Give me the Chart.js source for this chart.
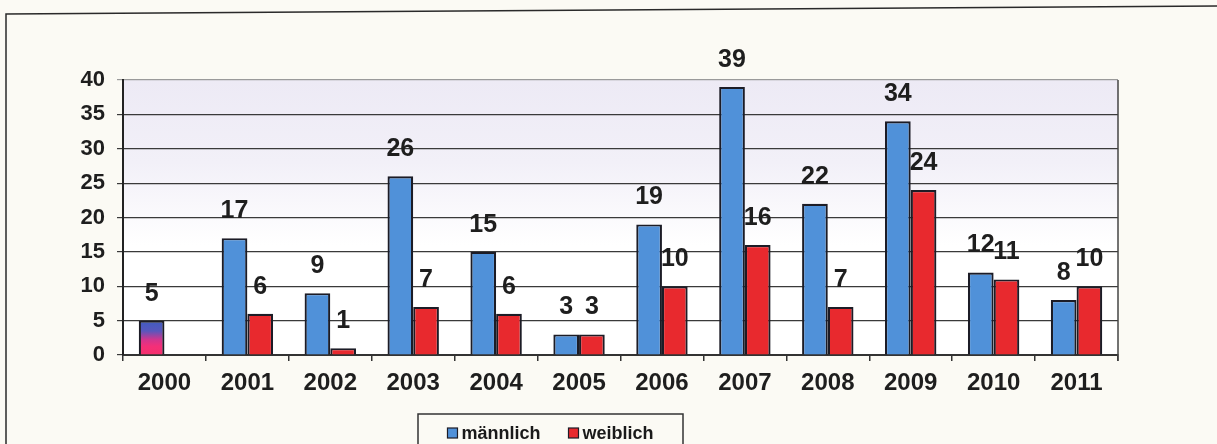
<!DOCTYPE html>
<html>
<head>
<meta charset="utf-8">
<script src="https://cdn.jsdelivr.net/npm/chart.js@4/dist/chart.umd.min.js"></script>
<style>
  html, body { margin: 0; padding: 0; background: #fbfaf4; }
  #wrap { width: 1217px; height: 444px; position: relative; }
</style>
</head>
<body>
<div id="wrap"><canvas id="genderChart"></canvas></div>
<script>
/* globals Chart:false */

const years = ['2000', '2001', '2002', '2003', '2004', '2005', '2006', '2007', '2008', '2009', '2010', '2011']
const maleCounts = [5, 17, 9, 26, 15, 3, 19, 39, 22, 34, 12, 8]
const femaleCounts = [null, 6, 1, 7, 6, 3, 10, 16, 7, 24, 11, 10]
const yTicks = [0, 5, 10, 15, 20, 25, 30, 35, 40]

const MALE_BLUE = '#5091d9'
const FEMALE_RED = '#e8292e'
const EDGE = '#1c1c26'
const FONT = '"Liberation Sans", Arial, sans-serif';

(() => {
  'use strict'

  const el = document.getElementById('genderChart')

  // the first year has one bar only, drawn blue fading into pink
  const maleFill = ctx => {
    const chart = ctx.chart
    const y = chart.scales && chart.scales.y
    if (ctx.dataIndex !== 0 || !y || !chart.chartArea) return MALE_BLUE
    const top = y.getPixelForValue(maleCounts[0])
    const bottom = y.getPixelForValue(0)
    const g = chart.ctx.createLinearGradient(0, top, 0, bottom)
    g.addColorStop(0, '#3f5cc0')
    g.addColorStop(0.3, '#5857bd')
    g.addColorStop(0.55, '#d0358f')
    g.addColorStop(0.75, '#f42f78')
    g.addColorStop(1, '#f5306c')
    return g
  }

  const backdrop = {
    id: 'backdrop',
    beforeDraw(chart) {
      const { ctx, chartArea: a } = chart
      ctx.save()
      ctx.fillStyle = '#fbfaf4'
      ctx.fillRect(0, 0, chart.width, chart.height)
      // outer frame
      ctx.strokeStyle = '#2a2a2a'
      ctx.lineWidth = 1.5
      ctx.beginPath()
      ctx.moveTo(6, chart.height)
      ctx.lineTo(6, 14)
      ctx.lineTo(chart.width, 6)
      ctx.stroke()
      // plot area tint
      const g = ctx.createLinearGradient(0, a.top, 0, a.bottom)
      g.addColorStop(0, '#edeaf5')
      g.addColorStop(0.3, '#f2f0f8')
      g.addColorStop(0.6, '#ffffff')
      g.addColorStop(1, '#ffffff')
      ctx.fillStyle = g
      ctx.fillRect(a.left, a.top, a.right - a.left, a.bottom - a.top)
      ctx.restore()
    },
    afterDraw(chart) {
      const { ctx, chartArea: a } = chart
      ctx.save()
      ctx.strokeStyle = '#444'
      ctx.lineWidth = 1.5
      ctx.beginPath()
      ctx.moveTo(a.right, a.top)
      ctx.lineTo(a.right, a.bottom + 6)
      ctx.stroke()

      // legend box
      ctx.font = `bold 18px ${FONT}`
      const items = chart.data.datasets.map(ds => ({ label: ds.label, color: ds.legendColor }))
      const sq = 10
      const gap = 4
      const spacing = 28
      const widths = items.map(it => sq + gap + ctx.measureText(it.label).width)
      const total = widths.reduce((s, w) => s + w, 0) + spacing * (items.length - 1)
      const boxLeft = 418
      const boxRight = 683
      const cy = 433
      ctx.strokeStyle = '#333'
      ctx.lineWidth = 1.5
      ctx.strokeRect(boxLeft, 414, boxRight - boxLeft, 60)
      let x = (boxLeft + boxRight) / 2 - total / 2
      ctx.textBaseline = 'middle'
      ctx.textAlign = 'left'
      items.forEach((it, i) => {
        ctx.fillStyle = it.color
        ctx.fillRect(x, cy - sq / 2, sq, sq)
        ctx.strokeStyle = EDGE
        ctx.lineWidth = 1.2
        ctx.strokeRect(x, cy - sq / 2, sq, sq)
        ctx.fillStyle = '#1a1a1a'
        ctx.fillText(it.label, x + sq + gap, cy + 1)
        x += widths[i] + spacing
      })
      ctx.restore()
    }
  }

  const valueLabels = {
    id: 'valueLabels',
    afterDatasetsDraw(chart) {
      const { ctx } = chart
      ctx.save()
      ctx.font = `bold 25px ${FONT}`
      ctx.fillStyle = '#1e1e1e'
      ctx.textAlign = 'center'
      ctx.textBaseline = 'middle'
      chart.data.datasets.forEach((ds, di) => {
        chart.getDatasetMeta(di).data.forEach((bar, i) => {
          const v = ds.data[i]
          if (v === null || v === undefined) return
          ctx.fillText(String(v), bar.x, bar.y - 27)
        })
      })
      ctx.restore()
    }
  }

  // eslint-disable-next-line no-unused-vars
  const genderChart = new Chart(el, {
    type: 'bar',
    data: {
      labels: years,
      datasets: [
        {
          label: 'männlich',
          data: maleCounts,
          backgroundColor: maleFill,
          legendColor: MALE_BLUE,
          borderColor: EDGE,
          borderWidth: 2.2
        },
        {
          label: 'weiblich',
          data: femaleCounts,
          backgroundColor: FEMALE_RED,
          legendColor: FEMALE_RED,
          borderColor: EDGE,
          borderWidth: 2.2
        }
      ]
    },
    options: {
      responsive: true,
      maintainAspectRatio: false,
      animation: false,
      categoryPercentage: 0.62,
      barPercentage: 1.0,
      layout: { padding: { top: 80, right: 99, left: 0, bottom: 0 } },
      plugins: {
        legend: { display: false },
        tooltip: { enabled: false }
      },
      scales: {
        x: {
          afterFit: s => { s.height = 89 },
          grid: {
            offset: true,
            drawOnChartArea: false,
            drawTicks: true,
            tickLength: 6,
            color: '#333',
            lineWidth: 1.5
          },
          border: { display: true, color: '#333', width: 2 },
          ticks: {
            padding: 8,
            color: '#1e1e1e',
            font: { family: FONT, size: 24, weight: 'bold' }
          }
        },
        y: {
          min: 0,
          max: 40,
          afterFit: s => { s.width = 123 },
          afterBuildTicks: s => { s.ticks = yTicks.map(v => ({ value: v })) },
          grid: {
            drawTicks: true,
            tickLength: 6,
            color: ctx => (ctx.tick && ctx.tick.value === 40 ? '#9a9a9a' : '#3a3a3a'),
            lineWidth: 1.2
          },
          border: { display: true, color: '#222', width: 2 },
          ticks: {
            padding: 12,
            color: '#1e1e1e',
            font: { family: FONT, size: 22, weight: 'bold' }
          }
        }
      }
    },
    plugins: [backdrop, valueLabels]
  })
})()
</script>
</body>
</html>
